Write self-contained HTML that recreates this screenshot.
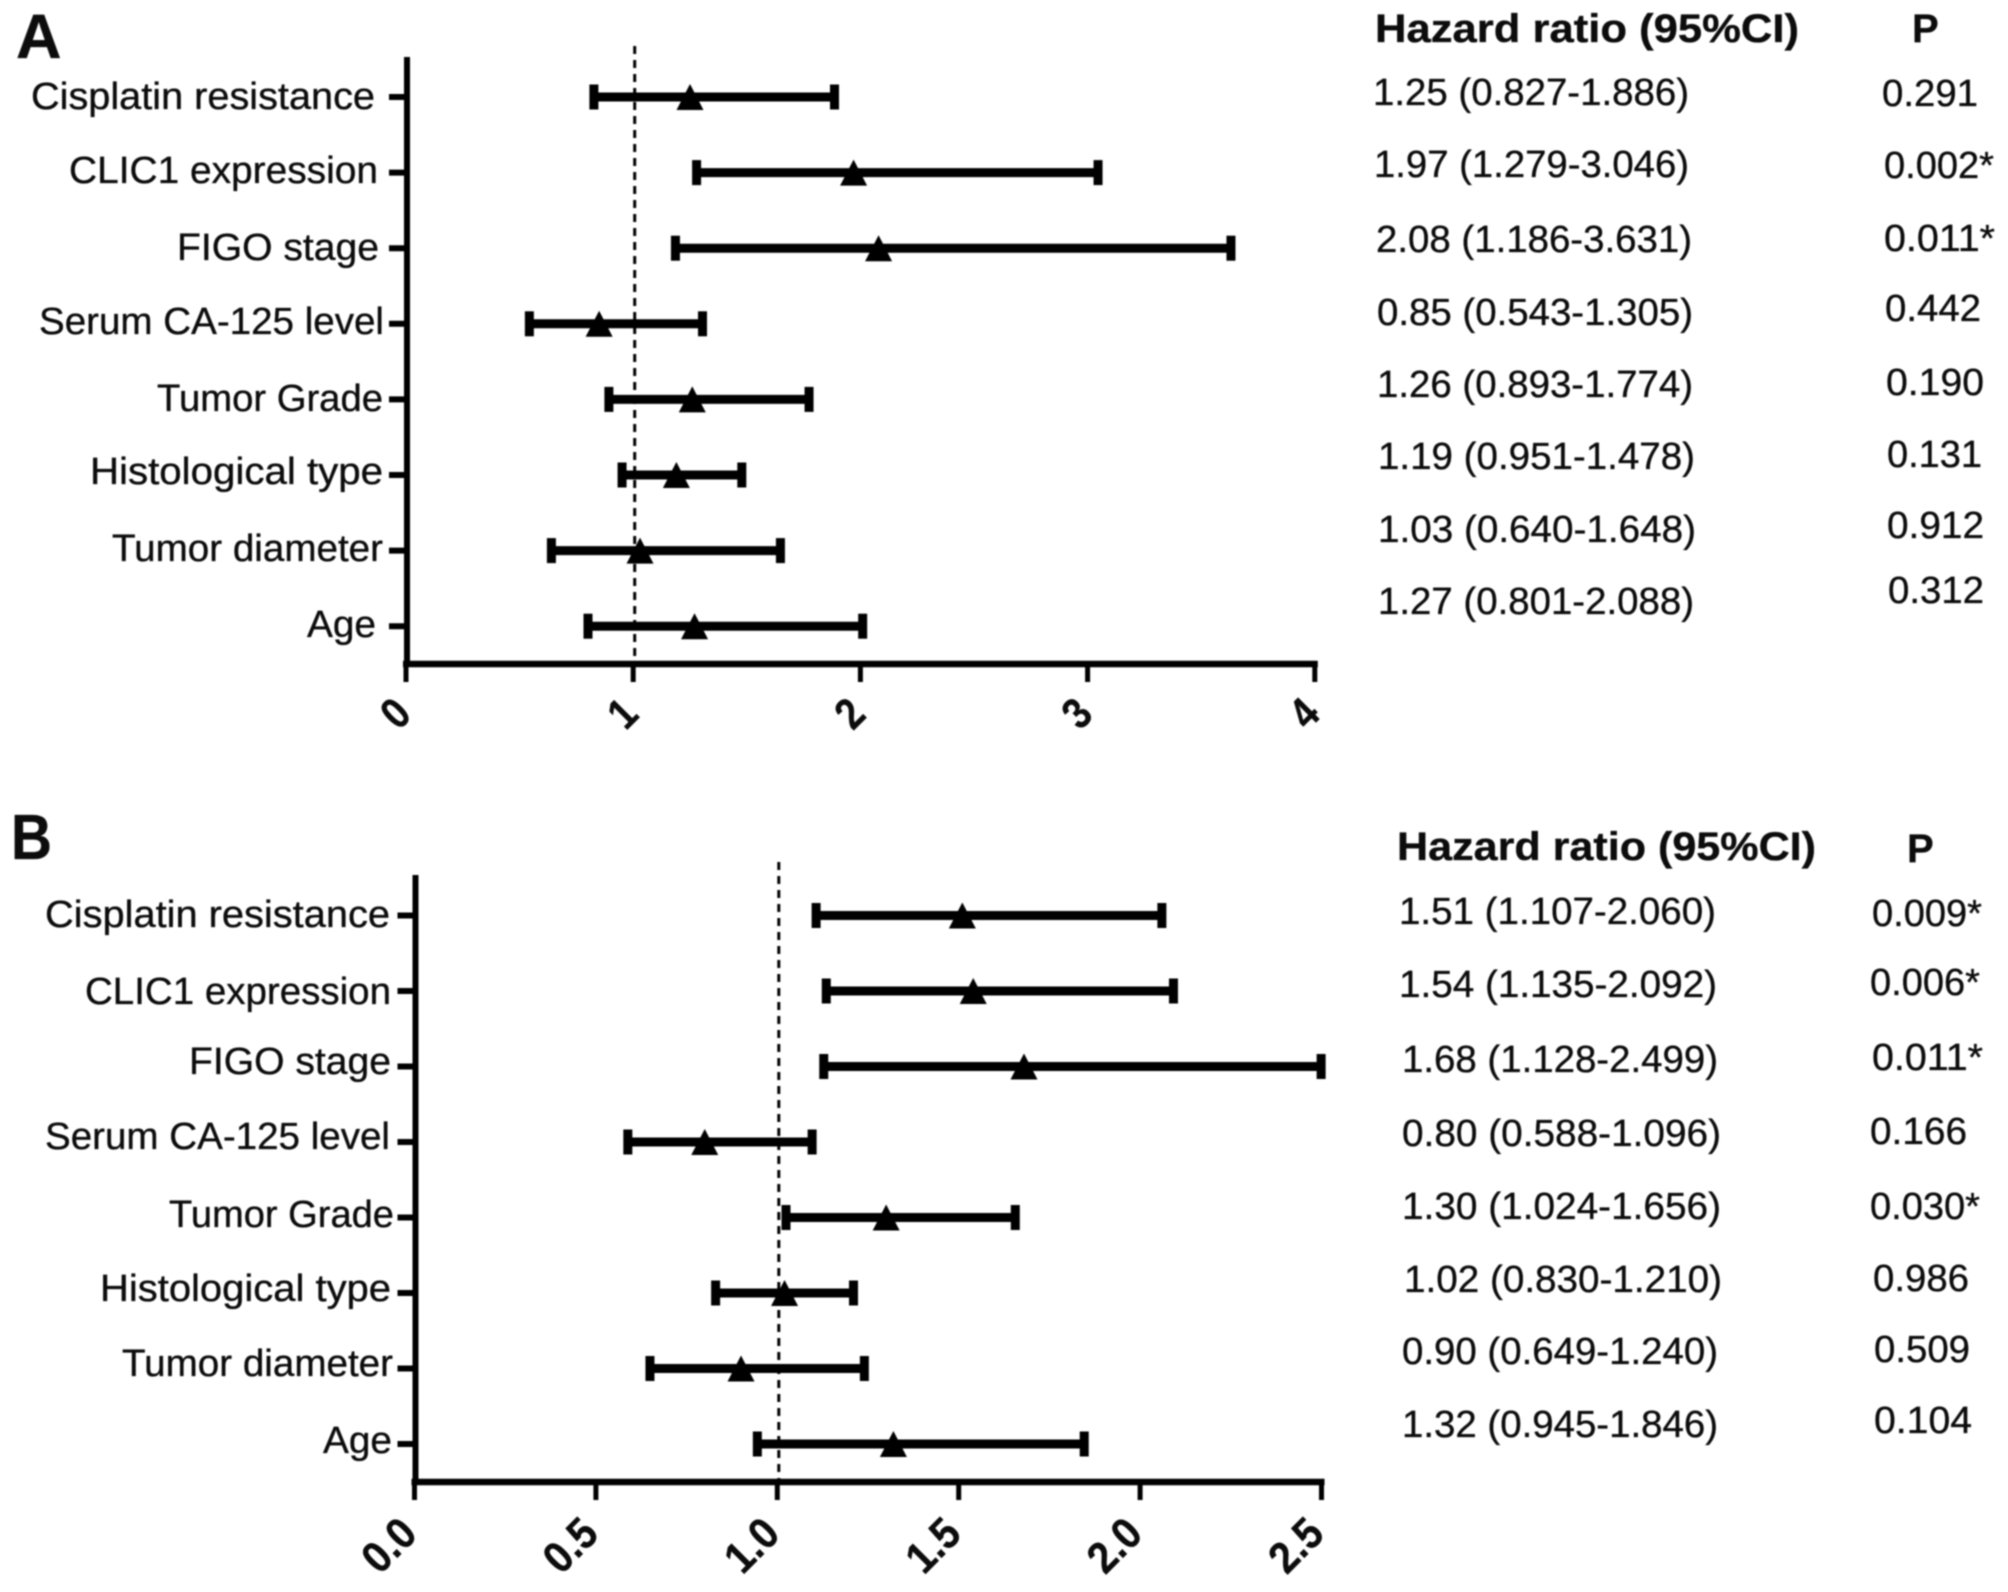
<!DOCTYPE html>
<html lang="en">
<head>
<meta charset="utf-8">
<title>Hazard ratio forest plots</title>
<style>
html,body{margin:0;padding:0;background:#fff;}
svg{display:block;filter:blur(0.7px);}
text{font-family:"Liberation Sans",Arial,sans-serif;fill:#0c0c0c;stroke:#0c0c0c;stroke-width:0.35px;}
.lab{font-size:38px;text-anchor:start;}
.val{font-size:38px;text-anchor:start;}
.head{font-size:40px;font-weight:bold;text-anchor:start;}
.tick{font-size:44px;font-weight:bold;text-anchor:middle;}
</style>
</head>
<body>
<svg id="chart" xmlns="http://www.w3.org/2000/svg" width="2008" height="1592" viewBox="0 0 2008 1592">
<rect x="0" y="0" width="2008" height="1592" fill="#fff"/>
<text x="16" y="58" font-size="63" font-weight="bold">A</text>
<text x="11" y="859" font-size="64" font-weight="bold" textLength="41" lengthAdjust="spacingAndGlyphs">B</text>

<g>
<text class="lab" x="31" y="109" textLength="344" lengthAdjust="spacingAndGlyphs">Cisplatin resistance</text>
<text class="lab" x="69" y="183" textLength="309" lengthAdjust="spacingAndGlyphs">CLIC1 expression</text>
<text class="lab" x="177" y="260" textLength="202" lengthAdjust="spacingAndGlyphs">FIGO stage</text>
<text class="lab" x="39" y="334" textLength="345" lengthAdjust="spacingAndGlyphs">Serum CA-125 level</text>
<text class="lab" x="157" y="411" textLength="226" lengthAdjust="spacingAndGlyphs">Tumor Grade</text>
<text class="lab" x="90" y="484" textLength="293" lengthAdjust="spacingAndGlyphs">Histological type</text>
<text class="lab" x="112" y="561" textLength="271" lengthAdjust="spacingAndGlyphs">Tumor diameter</text>
<text class="lab" x="307" y="637" textLength="69" lengthAdjust="spacingAndGlyphs">Age</text>
</g>

<g>
<text class="lab" x="45" y="927" textLength="345" lengthAdjust="spacingAndGlyphs">Cisplatin resistance</text>
<text class="lab" x="85" y="1004" textLength="306" lengthAdjust="spacingAndGlyphs">CLIC1 expression</text>
<text class="lab" x="189" y="1074" textLength="202" lengthAdjust="spacingAndGlyphs">FIGO stage</text>
<text class="lab" x="45" y="1149" textLength="345" lengthAdjust="spacingAndGlyphs">Serum CA-125 level</text>
<text class="lab" x="169" y="1227" textLength="225" lengthAdjust="spacingAndGlyphs">Tumor Grade</text>
<text class="lab" x="100" y="1301" textLength="291" lengthAdjust="spacingAndGlyphs">Histological type</text>
<text class="lab" x="122" y="1376" textLength="271" lengthAdjust="spacingAndGlyphs">Tumor diameter</text>
<text class="lab" x="323" y="1453" textLength="69" lengthAdjust="spacingAndGlyphs">Age</text>
</g>

<g>
<text class="head" x="1375" y="42" textLength="424" lengthAdjust="spacingAndGlyphs">Hazard ratio (95%CI)</text>
<text class="head" x="1912" y="42">P</text>
<text class="val" x="1373" y="105" textLength="316" lengthAdjust="spacingAndGlyphs">1.25 (0.827-1.886)</text>
<text class="val" x="1374" y="177" textLength="315" lengthAdjust="spacingAndGlyphs">1.97 (1.279-3.046)</text>
<text class="val" x="1376" y="252" textLength="316" lengthAdjust="spacingAndGlyphs">2.08 (1.186-3.631)</text>
<text class="val" x="1377" y="325" textLength="316" lengthAdjust="spacingAndGlyphs">0.85 (0.543-1.305)</text>
<text class="val" x="1377" y="397" textLength="316" lengthAdjust="spacingAndGlyphs">1.26 (0.893-1.774)</text>
<text class="val" x="1378" y="469" textLength="317" lengthAdjust="spacingAndGlyphs">1.19 (0.951-1.478)</text>
<text class="val" x="1378" y="542" textLength="318" lengthAdjust="spacingAndGlyphs">1.03 (0.640-1.648)</text>
<text class="val" x="1378" y="614" textLength="316" lengthAdjust="spacingAndGlyphs">1.27 (0.801-2.088)</text>
<text class="val" x="1882" y="106" textLength="96" lengthAdjust="spacingAndGlyphs">0.291</text>
<text class="val" x="1884" y="178" textLength="110" lengthAdjust="spacingAndGlyphs">0.002*</text>
<text class="val" x="1884" y="251" textLength="111" lengthAdjust="spacingAndGlyphs">0.011*</text>
<text class="val" x="1885" y="321" textLength="96" lengthAdjust="spacingAndGlyphs">0.442</text>
<text class="val" x="1886" y="395" textLength="98" lengthAdjust="spacingAndGlyphs">0.190</text>
<text class="val" x="1887" y="467" textLength="95" lengthAdjust="spacingAndGlyphs">0.131</text>
<text class="val" x="1887" y="538" textLength="97" lengthAdjust="spacingAndGlyphs">0.912</text>
<text class="val" x="1888" y="603" textLength="96" lengthAdjust="spacingAndGlyphs">0.312</text>
</g>

<g>
<text class="head" x="1397" y="860" textLength="419" lengthAdjust="spacingAndGlyphs">Hazard ratio (95%CI)</text>
<text class="head" x="1907" y="862">P</text>
<text class="val" x="1399" y="924" textLength="317" lengthAdjust="spacingAndGlyphs">1.51 (1.107-2.060)</text>
<text class="val" x="1399" y="997" textLength="318" lengthAdjust="spacingAndGlyphs">1.54 (1.135-2.092)</text>
<text class="val" x="1402" y="1072" textLength="316" lengthAdjust="spacingAndGlyphs">1.68 (1.128-2.499)</text>
<text class="val" x="1402" y="1146" textLength="319" lengthAdjust="spacingAndGlyphs">0.80 (0.588-1.096)</text>
<text class="val" x="1402" y="1219" textLength="319" lengthAdjust="spacingAndGlyphs">1.30 (1.024-1.656)</text>
<text class="val" x="1404" y="1292" textLength="318" lengthAdjust="spacingAndGlyphs">1.02 (0.830-1.210)</text>
<text class="val" x="1402" y="1364" textLength="316" lengthAdjust="spacingAndGlyphs">0.90 (0.649-1.240)</text>
<text class="val" x="1402" y="1437" textLength="316" lengthAdjust="spacingAndGlyphs">1.32 (0.945-1.846)</text>
<text class="val" x="1872" y="926" textLength="110" lengthAdjust="spacingAndGlyphs">0.009*</text>
<text class="val" x="1870" y="995" textLength="110" lengthAdjust="spacingAndGlyphs">0.006*</text>
<text class="val" x="1872" y="1070" textLength="111" lengthAdjust="spacingAndGlyphs">0.011*</text>
<text class="val" x="1870" y="1144" textLength="97" lengthAdjust="spacingAndGlyphs">0.166</text>
<text class="val" x="1870" y="1219" textLength="110" lengthAdjust="spacingAndGlyphs">0.030*</text>
<text class="val" x="1873" y="1291" textLength="96" lengthAdjust="spacingAndGlyphs">0.986</text>
<text class="val" x="1874" y="1362" textLength="96" lengthAdjust="spacingAndGlyphs">0.509</text>
<text class="val" x="1874" y="1433" textLength="98" lengthAdjust="spacingAndGlyphs">0.104</text>
</g>
</svg>

<script>
// Panel A values (top row to bottom row)
var hrA = [1.25, 1.97, 2.08, 0.85, 1.26, 1.19, 1.03, 1.27];
var lowA = [0.827, 1.279, 1.186, 0.543, 0.893, 0.951, 0.640, 0.801];
var highA = [1.886, 3.046, 3.631, 1.305, 1.774, 1.478, 1.648, 2.01];
var tickValuesA = [0, 1, 2, 3, 4];
var tickLabelsA = ['0', '1', '2', '3', '4'];

// Panel B values (top row to bottom row)
var hrB = [1.51, 1.54, 1.68, 0.80, 1.30, 1.02, 0.90, 1.32];
var lowB = [1.107, 1.135, 1.128, 0.588, 1.024, 0.830, 0.649, 0.945];
var highB = [2.060, 2.092, 2.499, 1.096, 1.656, 1.210, 1.240, 1.846];
var tickValuesB = [0.0, 0.5, 1.0, 1.5, 2.0, 2.5];
var tickLabelsB = ['0.0', '0.5', '1.0', '1.5', '2.0', '2.5'];

var svg = document.getElementById('chart');
var NS = 'http://www.w3.org/2000/svg';

function lineEl(parent, x1, y1, x2, y2, w) {
  var el = document.createElementNS(NS, 'line');
  el.setAttribute('x1', x1);
  el.setAttribute('y1', y1);
  el.setAttribute('x2', x2);
  el.setAttribute('y2', y2);
  el.setAttribute('stroke', '#000');
  el.setAttribute('stroke-width', w);
  parent.appendChild(el);
  return el;
}

function groupEl(parent) {
  var g = document.createElementNS(NS, 'g');
  parent.appendChild(g);
  return g;
}

function drawPanel(p) {
  var xAxis = function (v) { return p.x0 + v * p.scale; };
  var yAxis = function (i) { return p.y0 + i * p.step; };

  var panel = groupEl(svg);
  
  

  var ref = lineEl(panel, xAxis(1) + 1.5, p.refTop, xAxis(1) + 1.5, p.base, 3);
  ref.setAttribute('stroke-dasharray', '8 6');
  
  

  var yLine = lineEl(panel, p.x0 + 1, p.top, p.x0 + 1, p.base + 3, 6);
  
  

  var xLine = lineEl(panel, p.x0 - 3, p.base, xAxis(p.ticks[p.ticks.length - 1]) + 3, p.base, 6.5);
  
  

  p.ticks.forEach(function (v, k) {
    var t = lineEl(panel, xAxis(v), p.base, xAxis(v), p.base + 18, 5);
    
    

    var label = document.createElementNS(NS, 'text');
    var cx = xAxis(v) + p.labelDx;
    label.setAttribute('class', 'tick');
    label.setAttribute('x', cx);
    label.setAttribute('y', p.labelY);
    label.setAttribute('dy', '0.35em');
    label.setAttribute('textLength', p.labelLen);
    label.setAttribute('lengthAdjust', 'spacingAndGlyphs');
    label.setAttribute('transform', 'rotate(-45 ' + cx + ' ' + p.labelY + ')');
    
    
    label.textContent = p.tickLabels[k];
    panel.appendChild(label);
  });

  p.hr.forEach(function (v, i) {
    var y = yAxis(i);

    var tick = lineEl(panel, p.x0 - 17, y, p.x0, y, 6);
    
    

    var row = groupEl(panel);
    
    

    var bar = lineEl(row, xAxis(p.low[i]), y, xAxis(p.high[i]), y, 9);
    
    

    var capL = lineEl(row, xAxis(p.low[i]), y - 12.5, xAxis(p.low[i]), y + 12.5, 9);
    
    

    var capH = lineEl(row, xAxis(p.high[i]), y - 12.5, xAxis(p.high[i]), y + 12.5, 9);
    
    

    var mx = xAxis(v);
    var tri = document.createElementNS(NS, 'polygon');
    tri.setAttribute('points', mx + ',' + (y - 13) + ' ' + (mx + 13.5) + ',' + (y + 13) + ' ' + (mx - 13.5) + ',' + (y + 13));
    tri.setAttribute('fill', '#000');
    
    
    row.appendChild(tri);
  });
}

drawPanel({
  x0: 406, scale: 227.2, y0: 97, step: 75.6, top: 57, base: 664, refTop: 46,
  labelDx: -11, labelY: 713, labelLen: 21,
  hr: hrA, low: lowA, high: highA, ticks: tickValuesA, tickLabels: tickLabelsA
});

drawPanel({
  x0: 414.5, scale: 362.8, y0: 915.5, step: 75.5, top: 875, base: 1482, refTop: 862,
  labelDx: -26, labelY: 1545, labelLen: 56,
  hr: hrB, low: lowB, high: highB, ticks: tickValuesB, tickLabels: tickLabelsB
});
</script>
</body>
</html>
